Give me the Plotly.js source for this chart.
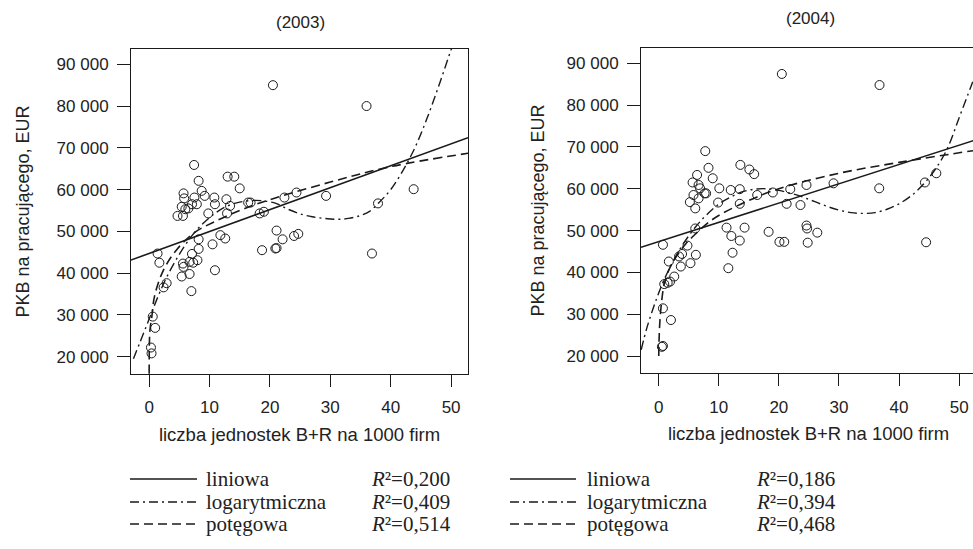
<!DOCTYPE html>
<html><head><meta charset="utf-8">
<script src="https://cdn.plot.ly/plotly-3.0.1.min.js"></script>
<style>html,body{margin:0;padding:0;overflow:hidden;background:#fff}</style>
</head><body><div id="chart" style="width:980px;height:549px"></div>
<script>
// ---- data ----
const x2003 = [20.5,36.0,7.45,8.2,13.0,14.1,15.0,8.7,5.7,9.2,5.8,7.5,10.8,12.8,7.9,7.1,5.4,6.5,6.0,10.9,13.4,16.4,16.8,4.7,5.6,9.8,12.9,18.3,19.0,22.4,24.4,29.3,37.9,43.8,36.9,21.1,11.8,12.6,8.2,22.1,24.0,24.7,10.5,18.7,20.9,21.1,8.2,7.1,1.4,8.0,6.7,5.6,7.3,1.7,5.7,10.9,6.7,5.4,2.9,2.4,7.0,0.6,1.0,0.3,0.4];
const y2003 = [85000,80000,65900,62100,63100,63100,60300,59700,59100,58500,57900,58100,58100,57700,56500,56500,55900,55500,55300,56500,56100,56900,56900,53700,53700,54300,54300,54300,54700,58100,59300,58500,56700,60100,44700,50200,49100,48300,48100,48100,48900,49400,46900,45500,45900,46000,45800,44600,44700,43100,42700,42300,42500,42500,41500,40700,39800,39200,37600,36600,35700,29600,26900,22200,20800];

const x2004 = [20.5,36.75,7.76,8.3,13.6,15.1,15.9,6.4,9.0,5.65,6.65,10.1,6.9,5.8,7.65,7.9,6.65,5.2,9.9,6.1,12.0,13.5,13.5,16.4,19.0,21.9,24.6,29.1,21.3,23.6,36.7,44.3,46.2,44.5,6.1,11.3,14.3,12.1,13.5,18.3,20.1,20.9,24.6,24.7,26.4,24.8,0.72,4.8,6.2,3.9,3.4,1.7,5.3,3.7,12.3,11.6,2.6,1.9,1.5,0.94,0.72,2.05,0.72,0.55];
const y2004 = [87450,84800,69000,65000,65700,64600,63500,63300,62500,61500,60900,60100,60100,58500,58900,58900,57700,56800,56700,55300,59700,59900,56400,58500,59100,59900,60900,61300,56400,56100,60100,61500,63700,47200,50500,50700,50700,48700,47600,49700,47300,47300,51200,50500,49500,47100,46600,46400,44200,44400,43800,42600,42200,41400,44700,41000,39000,37800,37500,37200,31400,28600,22400,22200];

// fitted curves, points
const lin2003X = [-3, 52.8];
const lin2003Y = [43140, 72430];
const log2003X = [-2.6,-1.5,0,1.5,3,5,7,9,11,13,15,17,19,21,23,25,27,29,31,33,35,36.5,38,40,42,44,46,48,50,50.5];
const log2003Y = [19500,23500,29000,34500,39300,44500,48800,52000,54400,56100,57000,57400,57300,56700,55300,54200,53500,53100,52900,53100,53800,54800,56800,60000,64500,70000,77000,85000,93500,95500];
const pow2003X = [0.005,0.02,0.05,0.15,0.44,0.9,2.3,4.5,7.5,10.8,15,20,30,40,52.8];
const pow2003Y = [15900,20500,23500,26500,29500,34500,40500,45500,49700,52300,55000,57600,61800,65500,68700];

const lin2004X = [-2.93, 52.8];
const lin2004Y = [46000, 71700];
const log2004X = [-2.9,-2,-1,0,1,2,3,4,5,6,7,8,10,12,14,16,18,20,22,24,26,28,30,32,34,36,38,40,42,44,46,48,50,52,53];
const log2004Y = [21500,26500,31000,35000,38500,41500,44200,46600,48700,50600,52300,53800,56300,58000,59300,59900,60000,59600,58900,58000,56900,55800,54900,54300,54100,54300,55100,56400,58300,61000,64600,69500,77000,84600,88500];
const pow2004X = [0.02,0.08,0.2,0.5,0.9,1.5,2,3.2,4.5,6,8,10,15,20,30,40,50,52.8];
const pow2004Y = [20000,24000,28000,33000,37000,39800,41500,44300,46800,49000,51600,53600,57200,60000,63700,66300,68600,69200];

const yTickVals = [20000,30000,40000,50000,60000,70000,80000,90000];
const yTickText = ['20 000','30 000','40 000','50 000','60 000','70 000','80 000','90 000'];
const xTickVals = [0,10,20,30,40,50];
const panelTitles = ['(2003)','(2004)'];
const xTitle = 'liczba jednostek B+R na 1000 firm';
const yTitle = 'PKB na pracującego, EUR';
const fitNames = ['liniowa','logarytmiczna','potęgowa'];
const r2_2003 = ['0,200','0,409','0,514'];
const r2_2004 = ['0,186','0,394','0,468'];

// ---- layout geometry ----
const W = 980, H = 549, ML = 131, MR = 4, MT = 47, MB = 175;
const PW = W - ML - MR, PH = H - MT - MB;
const fx = px => (px - ML) / PW;
const fy = py => (H - MB - py) / PH;

const INK = '#1a1a1a';
const styles = [
  {dash: 'solid', width: 1.6},
  {dash: '9px,4px,2px,4px', width: 1.4},
  {dash: '9px,5px', width: 1.6}
];

function pts(x, y, xa, ya) {
  return {x, y, xaxis: xa, yaxis: ya, type: 'scatter', mode: 'markers', showlegend: false,
    marker: {symbol: 'circle-open', size: 9, color: INK, line: {width: 1, color: INK}}, hoverinfo: 'x+y'};
}
function curve(x, y, xa, ya, st, shape) {
  return {x, y, xaxis: xa, yaxis: ya, type: 'scatter', mode: 'lines', showlegend: false,
    line: {color: INK, width: st.width, dash: st.dash, shape: shape, smoothing: 1}, hoverinfo: 'skip'};
}

const data = [
  curve(lin2003X, lin2003Y, 'x', 'y', styles[0], 'linear'),
  curve(log2003X, log2003Y, 'x', 'y', styles[1], 'spline'),
  curve(pow2003X, pow2003Y, 'x', 'y', styles[2], 'spline'),
  pts(x2003, y2003, 'x', 'y'),
  curve(lin2004X, lin2004Y, 'x2', 'y2', styles[0], 'linear'),
  curve(log2004X, log2004Y, 'x2', 'y2', styles[1], 'spline'),
  curve(pow2004X, pow2004Y, 'x2', 'y2', styles[2], 'spline'),
  pts(x2004, y2004, 'x2', 'y2')
];

const sans = 'Liberation Sans, Arial, sans-serif';
const tickFont = {family: sans, size: 17, color: '#222'};
function xAxis(domain, range, anchor) {
  return {domain, range, anchor, tickvals: xTickVals, ticktext: xTickVals.map(String),
    showline: true, mirror: true, linecolor: INK, linewidth: 1, ticks: 'outside', ticklen: 12,
    tickcolor: INK, showgrid: false, zeroline: false, tickfont: tickFont, ticklabelstandoff: 6,
    title: {text: xTitle, font: {family: sans, size: 18.5, color: '#222'}, standoff: 11}};
}
function yAxis(domain, range, anchor, standoff) {
  return {domain, range, anchor, tickvals: yTickVals, ticktext: yTickText,
    showline: true, mirror: true, linecolor: INK, linewidth: 1, ticks: 'outside', ticklen: 13,
    tickcolor: INK, showgrid: false, zeroline: false, tickfont: tickFont, ticklabelstandoff: 5,
    title: {text: yTitle, font: {family: sans, size: 18, color: '#222'}, standoff}};
}

const shapes = [], annotations = [];
const legendRows = [479, 502, 524];
const legendCols = [
  {lineFrom: 130, lineTo: 197, text: 205, r2: 370, vals: r2_2003},
  {lineFrom: 510, lineTo: 576, text: 586, r2: 755, vals: r2_2004}
];
const serif = {family: 'Liberation Serif, Times New Roman, serif', size: 21, color: '#222'};
legendCols.forEach(c => {
  legendRows.forEach((py, i) => {
    shapes.push({type: 'line', xref: 'paper', yref: 'paper', x0: fx(c.lineFrom), x1: fx(c.lineTo), y0: fy(py), y1: fy(py),
      line: {color: INK, width: styles[i].width, dash: styles[i].dash}});
    annotations.push({xref: 'paper', yref: 'paper', x: fx(c.text), y: fy(py), xanchor: 'left', yanchor: 'middle',
      text: fitNames[i], showarrow: false, font: serif, borderpad: 0});
    annotations.push({xref: 'paper', yref: 'paper', x: fx(c.r2), y: fy(py), xanchor: 'left', yanchor: 'middle',
      text: '<i>R</i>²=' + c.vals[i], showarrow: false, font: serif, borderpad: 0});
  });
});
annotations.push({xref: 'paper', yref: 'paper', x: fx(300), y: fy(22), xanchor: 'center', yanchor: 'middle',
  text: panelTitles[0], showarrow: false, font: {family: sans, size: 17, color: '#222'}});
annotations.push({xref: 'paper', yref: 'paper', x: fx(810), y: fy(19), xanchor: 'center', yanchor: 'middle',
  text: panelTitles[1], showarrow: false, font: {family: sans, size: 17, color: '#222'}});

const layout = {
  width: W, height: H, margin: {l: ML, r: MR, t: MT, b: MB},
  paper_bgcolor: '#fff', plot_bgcolor: '#fff', showlegend: false,
  xaxis: xAxis([fx(131), fx(468)], [-3, 52.8], 'y'),
  yaxis: yAxis([fy(374), fy(49)], [15860, 93660], 'x', 22),
  xaxis2: xAxis([fx(641), fx(976)], [-2.93, 52.8], 'y2'),
  yaxis2: yAxis([fy(373.3), fy(47.7)], [15862, 93731], 'x2', 17),
  shapes, annotations
};
Plotly.newPlot('chart', data, layout, {displayModeBar: false, staticPlot: true});
</script></body></html>
